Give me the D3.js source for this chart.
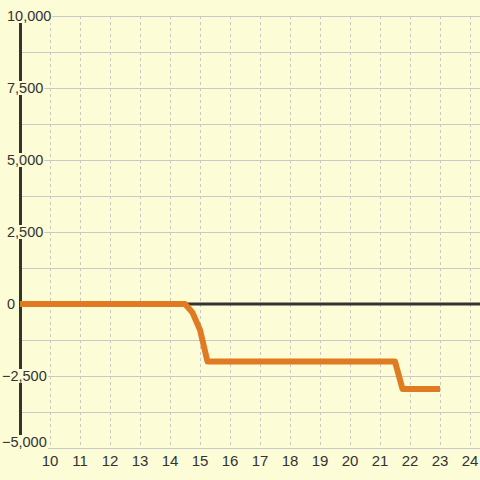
<!DOCTYPE html>
<html>
<head>
    <meta charset="utf-8" />
    <script src="https://cdn.jsdelivr.net/npm/d3@7"></script>
    <style>
        html, body { margin: 0; padding: 0; background: #fcfcd6; }
        svg { display: block; font-family: "Liberation Sans", Arial, sans-serif; }
    </style>
</head>
<body>
    <svg id="chart" width="480" height="480"></svg>
    <script>
        // data
        var xVals = [9, 14.5, 14.75, 15, 15.25, 21.5, 21.75, 23]
        var yVals = [0, 0, -300, -900, -2000, -2000, -2950, -2950]
        var xTicks = [10, 11, 12, 13, 14, 15, 16, 17, 18, 19, 20, 21, 22, 23, 24]
        var yTicks = [10000, 7500, 5000, 2500, 0, -2500, -5000]
        var yGrid = [10000, 8750, 7500, 6250, 5000, 3750, 2500, 1250, 0, -1250, -2500, -3750, -5000]

        var svg = d3.select("#chart")
        var bg = "#fcfcd6"
        svg.append("rect").attr("width", 480).attr("height", 480).attr("fill", bg)

        var x = d3.scaleLinear().domain([9, 24.333]).range([20, 480])
        var y = d3.scaleLinear().domain([-5000, 10000]).range([448, 16])
        var fmt = d3.format(",")

        // horizontal grid
        svg.append("g").selectAll("line").data(yGrid).enter().append("line")
            .attr("x1", 20).attr("x2", 480)
            .attr("y1", function (d) { return Math.round(y(d)) + 0.5 })
            .attr("y2", function (d) { return Math.round(y(d)) + 0.5 })
            .attr("stroke", "#c8c8c8").attr("stroke-width", 1)

        // vertical dotted grid
        svg.append("g").selectAll("line").data(xTicks).enter().append("line")
            .attr("x1", function (d) { return Math.round(x(d)) + 0.5 })
            .attr("x2", function (d) { return Math.round(x(d)) + 0.5 })
            .attr("y1", 16).attr("y2", 448)
            .attr("stroke", "#c8c8c8").attr("stroke-width", 1)
            .attr("stroke-dasharray", "3,3")

        // y axis line
        svg.append("line").attr("x1", 20.5).attr("x2", 20.5).attr("y1", 16).attr("y2", 448)
            .attr("stroke", "#333").attr("stroke-width", 3)

        // zero line
        svg.append("line").attr("x1", 20).attr("x2", 480).attr("y1", y(0)).attr("y2", y(0))
            .attr("stroke", "#333").attr("stroke-width", 3)

        // series
        var pts = xVals.map(function (v, i) { return [v, yVals[i]] })
        var line = d3.line().x(function (d) { return x(d[0]) }).y(function (d) { return y(d[1]) })
        svg.append("path").attr("d", line(pts))
            .attr("fill", "none").attr("stroke", "#e07b22").attr("stroke-width", 6)
            .attr("stroke-linejoin", "round")

        // y labels with background boxes
        var yl = svg.append("g").selectAll("g").data(yTicks).enter().append("g")
        yl.each(function (d) {
            var g = d3.select(this)
            var cy = Math.min(y(d), 442)
            var tx = d < 0 ? 2 : 7
            var t = g.append("text").attr("x", tx).attr("y", cy).attr("dy", "0.35em")
                .attr("font-size", 14.5).attr("fill", "#333").text(fmt(d))
            var bb = t.node().getBBox()
            g.insert("rect", "text").attr("x", bb.x - 1).attr("y", cy - 7)
                .attr("width", bb.width + 2).attr("height", 14).attr("fill", bg)
        })

        // x labels
        svg.append("g").selectAll("text").data(xTicks).enter().append("text")
            .attr("x", function (d) { return x(d) })
            .attr("y", 461).attr("dy", "0.35em")
            .attr("text-anchor", "middle").attr("font-size", 15).attr("fill", "#333")
            .text(function (d) { return d })
    </script>
</body>
</html>
